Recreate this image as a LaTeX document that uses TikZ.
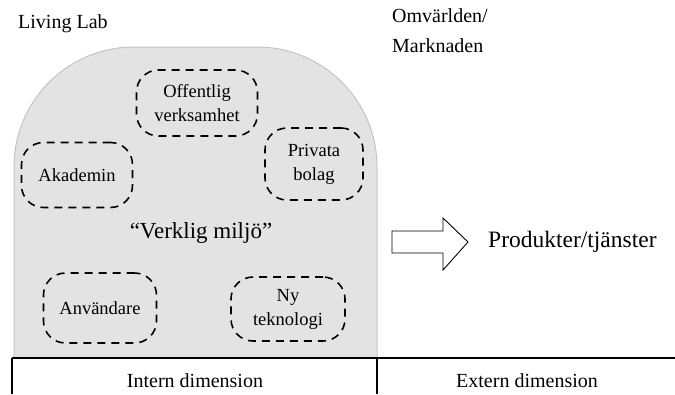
\documentclass[tikz,border=0pt]{standalone}
\usepackage{fontspec}
\setmainfont{Liberation Serif}
\definecolor{labgray}{HTML}{E3E3E3}
\definecolor{labedge}{HTML}{C4C4C4}
\tikzset{
    actor/.style={draw, dashed, line width=1.6pt, dash pattern=on 8pt off 6pt,
        rounded corners=22pt, align=center, inner sep=0pt, font=\fontsize{18.5}{24}\selectfont},
    caption/.style={inner sep=0pt, font=\fontsize{20}{30}\selectfont}
}

\begin{document}
\begin{tikzpicture}[x=1pt, y=-1pt]
    \useasboundingbox (0,0) rectangle (675,394);
    \fill[labgray, draw=labedge, line width=1pt, rounded corners=120pt]
        (14,358) -- (14,47) -- (377,47) -- (377,358);

    \node (lab) [caption, anchor=base west] at (18,28) {Living Lab};
    \node (world) [caption, anchor=north west, align=left] at (392,8) {Omvärlden/\\Marknaden};

    \node (off) [actor, minimum width=121pt, minimum height=66pt] at (197,103) {Offentlig\\verksamhet};
    \node (aka) [actor, minimum width=111pt, minimum height=65pt] at (77,175) {Akademin};
    \node (priv) [actor, minimum width=98pt, minimum height=72pt] at (314,164) {Privata\\bolag};
    \node (anv) [actor, minimum width=113pt, minimum height=70pt] at (100,308) {Användare};
    \node (tek) [actor, minimum width=114pt, minimum height=64pt] at (288,309) {Ny\\teknologi};

    \node (env) [caption, font=\fontsize{23}{30}\selectfont] at (201,233) {“Verklig miljö”};

    % block arrow
    \coordinate (a1) at (392,231);
    \coordinate (a2) at (443,231);
    \coordinate (a3) at (443,218);
    \coordinate (tip) at (468,242);
    \coordinate (a5) at (443,270);
    \coordinate (a6) at (443,253);
    \coordinate (a7) at (392,253);
    \draw[line width=0.9pt, fill=white] (a1) -- (a2) -- (a3) -- (tip) -- (a5) -- (a6) -- (a7) -- cycle;
    \node (prod) [caption, anchor=west, font=\fontsize{23.5}{30}\selectfont] at (488,242) {Produkter/tjänster};

    \coordinate (l0) at (12,358);
    \coordinate (l1) at (675,358);
    \coordinate (m0) at (377,358);
    \coordinate (m1) at (377,394);
    \coordinate (k1) at (12,394);
    \draw[line width=1.4pt] (l0) -- (l1);
    \draw[line width=1.4pt] (l0) -- (k1);
    \draw[line width=1.4pt] (m0) -- (m1);

    \node (intern) [caption] at (195,381) {Intern dimension};
    \node (extern) [caption] at (527,381) {Extern dimension};
\end{tikzpicture}
\end{document}
